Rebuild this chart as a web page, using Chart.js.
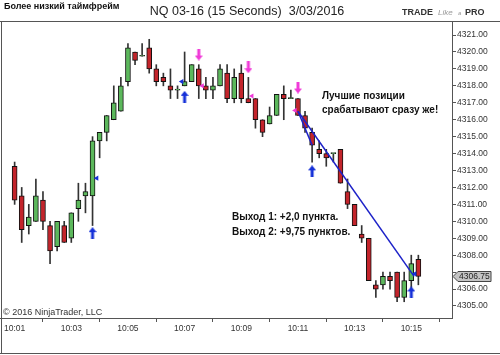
<!DOCTYPE html>
<html>
<head>
<meta charset="utf-8">
<script src="https://cdn.jsdelivr.net/npm/chart.js@4"></script>
<style>
  html, body { margin: 0; padding: 0; background: #fff; }
  #wrap { width: 500px; height: 355px; position: relative; }
</style>
</head>
<body>
<div id="wrap"><canvas id="chart" width="500" height="355"></canvas></div>
<script>
// NQ 03-16, 15-second bars, 10:01 .. 10:15
const openP  = [4313.25, 4311.5, 4309.75, 4310.0, 4311.25, 4309.75, 4308.5, 4309.75, 4309.0, 4310.75,
                4311.5, 4311.5, 4314.75, 4315.25, 4316.0, 4316.5, 4318.25, 4320.0, 4319.75, 4320.25,
                4319.0, 4318.5, 4318.0, 4317.75, 4318.0, 4318.25, 4319.0, 4318.0, 4317.75, 4318.0,
                4318.75, 4317.25, 4318.75, 4317.25, 4317.25, 4316.0, 4315.75, 4316.25, 4317.5, 4317.25,
                4317.25, 4316.25, 4315.25, 4314.25, 4314.0, 4314.0, 4314.25, 4311.75, 4311.0, 4309.25,
                4309.0, 4306.25, 4306.25, 4306.75, 4307.0, 4305.5, 4306.5, 4307.75];
const highP  = [4313.5, 4312.0, 4311.0, 4312.5, 4311.75, 4310.0, 4310.0, 4310.0, 4310.5, 4312.25,
                4312.25, 4315.0, 4315.25, 4316.25, 4318.0, 4318.5, 4320.5, 4320.0, 4320.5, 4320.75,
                4319.25, 4318.75, 4319.0, 4318.0, 4320.0, 4319.25, 4319.25, 4318.5, 4318.5, 4319.25,
                4319.25, 4319.0, 4319.25, 4318.5, 4317.25, 4316.0, 4316.75, 4317.5, 4318.0, 4317.75,
                4317.25, 4316.5, 4315.5, 4314.75, 4314.25, 4314.0, 4314.25, 4312.5, 4311.0, 4309.75,
                4309.0, 4306.5, 4307.0, 4307.0, 4307.0, 4307.0, 4308.0, 4308.0];
const lowP   = [4311.0, 4308.75, 4309.25, 4310.0, 4309.5, 4307.5, 4308.25, 4308.75, 4308.75, 4310.0,
                4310.5, 4309.75, 4313.75, 4314.75, 4316.0, 4316.5, 4318.0, 4319.25, 4319.75, 4318.75,
                4318.0, 4318.0, 4317.25, 4317.25, 4318.0, 4318.25, 4317.25, 4317.25, 4317.25, 4318.0,
                4317.0, 4317.0, 4317.0, 4317.0, 4315.5, 4315.0, 4315.75, 4316.25, 4316.0, 4317.25,
                4316.25, 4315.25, 4313.5, 4313.75, 4313.25, 4313.5, 4312.25, 4310.75, 4309.75, 4308.75,
                4306.5, 4305.5, 4306.0, 4306.0, 4305.25, 4305.25, 4306.0, 4306.25];
const closeP = [4311.25, 4309.5, 4310.25, 4311.5, 4310.0, 4308.25, 4310.0, 4308.75, 4310.5, 4311.25,
                4311.75, 4314.75, 4315.25, 4316.25, 4317.0, 4318.0, 4320.25, 4319.5, 4319.75, 4319.0,
                4318.25, 4318.25, 4317.75, 4317.75, 4318.25, 4319.25, 4318.0, 4317.75, 4318.0, 4319.0,
                4317.25, 4318.5, 4317.25, 4317.0, 4316.0, 4315.25, 4316.25, 4317.5, 4317.25, 4317.25,
                4316.25, 4315.5, 4314.5, 4314.0, 4313.75, 4314.0, 4312.25, 4311.0, 4309.75, 4309.0,
                4306.5, 4306.0, 4306.75, 4306.5, 4305.5, 4306.5, 4307.5, 4306.75];

// time labels every 8 bars (2 minutes)
const timeLabels = ['10:01', '10:03', '10:05', '10:07', '10:09', '10:11', '10:13', '10:15'];
const barsPerLabel = 8;

// trade markers: bar index and price
const buyArrows  = [{ x: 11, y: 4309.3 }, { x: 24, y: 4317.35 }, { x: 42, y: 4312.95 }, { x: 56, y: 4305.8 }];
const sellArrows = [{ x: 26, y: 4319.85 }, { x: 33, y: 4319.1 }, { x: 40, y: 4317.9 }];
const buyFills   = [{ x: 11.6, y: 4312.55 }, { x: 23.6, y: 4318.25 }, { x: 56.5, y: 4306.9 }];
const sellFills  = [{ x: 26.5, y: 4318.0 }, { x: 33.5, y: 4317.4 }, { x: 39.6, y: 4316.55 }];

// short trade: entry and two exits
const exit1Line = [{ x: 40, y: 4316.5 }, { x: 42, y: 4314.5 }];
const exit2Line = [{ x: 40, y: 4316.5 }, { x: 56.4, y: 4306.75 }];

const lastPrice = closeP[closeP.length - 1];

const idx = openP.map((_, i) => i);
const wickData = idx.map(i => ({ x: i, y: [lowP[i], highP[i]] }));
const bodyData = idx.map(i => ({ x: i, y: [Math.min(openP[i], closeP[i]), Math.max(openP[i], closeP[i])] }));
const bodyColors = idx.map(i => closeP[i] >= openP[i] ? '#5cb85c' : '#c3242b');

function makeArrow(color, up) {
    const c = document.createElement('canvas');
    c.width = 8; c.height = 12;
    const g = c.getContext('2d');
    g.fillStyle = color;
    g.beginPath();
    if (up) {
        g.moveTo(4, 0); g.lineTo(8, 5); g.lineTo(5.5, 5); g.lineTo(5.5, 12);
        g.lineTo(2.5, 12); g.lineTo(2.5, 5); g.lineTo(0, 5);
    } else {
        g.moveTo(4, 12); g.lineTo(8, 7); g.lineTo(5.5, 7); g.lineTo(5.5, 0);
        g.lineTo(2.5, 0); g.lineTo(2.5, 7); g.lineTo(0, 7);
    }
    g.closePath();
    g.fill();
    return c;
}
const upArrow = makeArrow('#1530d8', true);
const downArrow = makeArrow('#f03ad8', false);

const FONT = '"Liberation Sans", Arial, sans-serif';

const decorPlugin = {
    id: 'decor',
    afterDraw(chart) {
        const ctx = chart.ctx;
        const a = chart.chartArea;
        const yS = chart.scales.y;
        ctx.save();

        // frame
        ctx.strokeStyle = '#555';
        ctx.lineWidth = 1;
        ctx.beginPath();
        ctx.moveTo(0, a.top + 0.5); ctx.lineTo(500, a.top + 0.5);
        ctx.moveTo(1.5, a.top); ctx.lineTo(1.5, 354);
        ctx.moveTo(0, 353.5); ctx.lineTo(500, 353.5);
        ctx.moveTo(0, a.bottom + 0.5); ctx.lineTo(a.right + 1, a.bottom + 0.5);
        ctx.moveTo(a.right + 0.5, a.top); ctx.lineTo(a.right + 0.5, a.bottom + 1);
        ctx.stroke();

        // header
        ctx.fillStyle = '#111';
        ctx.textBaseline = 'middle';
        ctx.font = 'bold 9px ' + FONT;
        ctx.textAlign = 'left';
        ctx.fillText('Более низкий таймфрейм', 4, 7);
        ctx.font = '12.5px ' + FONT;
        ctx.textAlign = 'center';
        ctx.fillStyle = '#222';
        ctx.fillText('NQ 03-16 (15 Seconds)  3/03/2016', 247, 12);

        ctx.textAlign = 'left';
        ctx.font = 'bold 9px ' + FONT;
        ctx.fillStyle = '#333';
        ctx.fillText('TRADE', 402, 13);
        ctx.font = 'italic 8px ' + FONT;
        ctx.fillStyle = '#999';
        ctx.fillText('Like', 438, 13);
        ctx.font = 'italic 6px ' + FONT;
        ctx.fillText('a', 458, 13);
        ctx.font = 'bold 9px ' + FONT;
        ctx.fillStyle = '#333';
        ctx.fillText('PRO', 465, 13);

        // notes
        ctx.fillStyle = '#111';
        ctx.font = 'bold 10px ' + FONT;
        ctx.fillText('Лучшие позиции', 322, 96);
        ctx.fillText('срабатывают сразу же!', 322, 110);
        ctx.fillText('Выход 1: +2,0 пункта.', 232, 217);
        ctx.fillText('Выход 2: +9,75 пунктов.', 232, 232);

        ctx.font = '9px ' + FONT;
        ctx.fillStyle = '#333';
        ctx.fillText('© 2016 NinjaTrader, LLC', 3, 313);

        // last price tag
        const py = Math.round(yS.getPixelForValue(lastPrice)) + 0.5;
        const x0 = a.right + 1;
        ctx.beginPath();
        ctx.moveTo(x0, py);
        ctx.lineTo(x0 + 5, py - 5);
        ctx.lineTo(x0 + 38, py - 5);
        ctx.lineTo(x0 + 38, py + 5);
        ctx.lineTo(x0 + 5, py + 5);
        ctx.closePath();
        ctx.fillStyle = '#c4c4c4';
        ctx.fill();
        ctx.strokeStyle = '#444';
        ctx.stroke();
        ctx.fillStyle = '#222';
        ctx.font = '8.5px ' + FONT;
        ctx.textAlign = 'left';
        ctx.fillText(lastPrice.toFixed(2), x0 + 6, py + 0.5);

        ctx.restore();
    }
};

new Chart(document.getElementById('chart'), {
    type: 'bar',
    data: {
        datasets: [
            {
                label: 'wicks',
                data: wickData,
                backgroundColor: '#333',
                barThickness: 1,
                grouped: false,
                order: 3
            },
            {
                label: 'bodies',
                data: bodyData,
                backgroundColor: bodyColors,
                borderColor: '#111',
                borderWidth: 1,
                borderSkipped: false,
                barThickness: 5,
                minBarLength: 1,
                grouped: false,
                order: 2
            },
            {
                type: 'line',
                label: 'exit1',
                data: exit1Line,
                borderColor: '#1d22c8',
                borderWidth: 1.5,
                pointRadius: 0,
                order: 1
            },
            {
                type: 'line',
                label: 'exit2',
                data: exit2Line,
                borderColor: '#1d22c8',
                borderWidth: 1.5,
                pointRadius: 0,
                order: 1
            },
            {
                type: 'scatter',
                label: 'buy',
                data: buyArrows,
                pointStyle: upArrow,
                order: 0
            },
            {
                type: 'scatter',
                label: 'sell',
                data: sellArrows,
                pointStyle: downArrow,
                order: 0
            },
            {
                type: 'scatter',
                label: 'buyFill',
                data: buyFills,
                pointStyle: 'triangle',
                rotation: -90,
                radius: 3,
                backgroundColor: '#1530d8',
                borderWidth: 0,
                order: 0
            },
            {
                type: 'scatter',
                label: 'sellFill',
                data: sellFills,
                pointStyle: 'triangle',
                rotation: -90,
                radius: 3,
                backgroundColor: '#f03ad8',
                borderWidth: 0,
                order: 0
            }
        ]
    },
    options: {
        responsive: false,
        animation: false,
        layout: { padding: { left: 2, top: 21, right: 0, bottom: 0 } },
        plugins: {
            legend: { display: false },
            tooltip: { enabled: false }
        },
        scales: {
            x: {
                type: 'linear',
                min: -1.36,
                max: 61.75,
                offset: false,
                border: { display: false },
                grid: { drawOnChartArea: false, drawTicks: true, tickLength: 4, color: '#555' },
                afterBuildTicks: s => { s.ticks = timeLabels.map((_, k) => ({ value: k * barsPerLabel })); },
                ticks: {
                    autoSkip: false,
                    maxRotation: 0,
                    padding: 2,
                    color: '#333',
                    font: { family: FONT, size: 8.5 },
                    callback: v => timeLabels[Math.round(v / barsPerLabel)]
                },
                afterFit: s => { s.height = 37; s.paddingLeft = 0; s.paddingRight = 0; }
            },
            y: {
                position: 'right',
                min: 4304.29,
                max: 4321.83,
                border: { display: false },
                grid: { drawOnChartArea: false, drawTicks: true, tickLength: 4, color: '#555' },
                ticks: {
                    stepSize: 1,
                    includeBounds: false,
                    padding: 1,
                    color: '#333',
                    font: { family: FONT, size: 8.5 },
                    callback: v => Math.abs(v - lastPrice) < 0.6 ? '' : v.toFixed(2)
                },
                afterFit: s => { s.width = 48; s.paddingTop = 0; s.paddingBottom = 0; }
            }
        }
    },
    plugins: [decorPlugin]
});
</script>
</body>
</html>
